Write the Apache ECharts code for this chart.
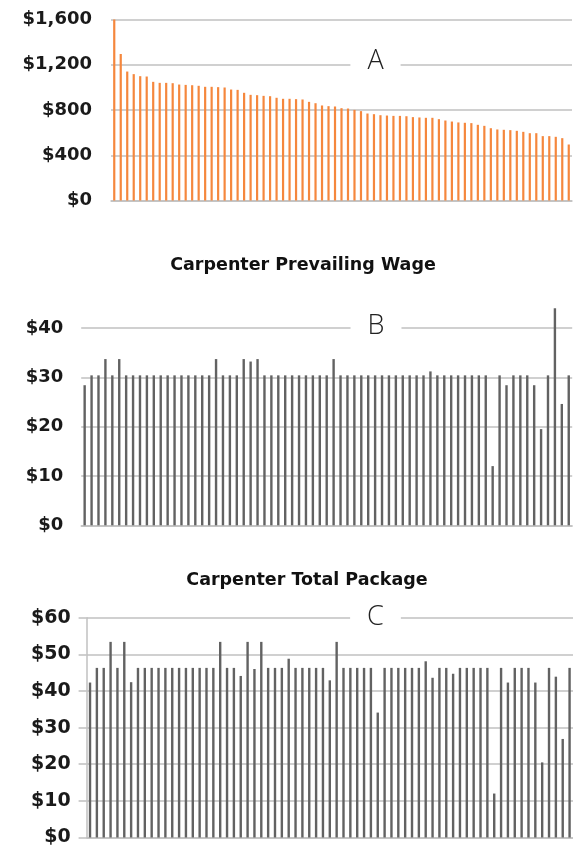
<!DOCTYPE html>
<html>
<head>
<meta charset="utf-8">
<style>
  html, body { margin: 0; padding: 0; background: #fff; }
  #chart { width: 573px; height: 847px; }
</style>
<script src="https://cdn.jsdelivr.net/npm/echarts@6/dist/echarts.min.js"></script>
</head>
<body>
<div id="chart"></div>
<script>
// 71 locations, same order in all three panels
const categories = Array.from({ length: 71 }, (_, i) => 'L' + (i + 1))

// A: weekly amount, sorted high to low
const valuesA = [
  1640, 1295, 1140, 1117, 1099, 1096, 1049, 1040, 1040, 1037,
  1025, 1022, 1019, 1014, 1005, 1005, 1002, 999, 981, 978,
  952, 934, 931, 925, 922, 908, 899, 899, 896, 893,
  872, 860, 840, 834, 831, 816, 813, 801, 790, 769,
  763, 754, 751, 748, 748, 745, 737, 734, 731, 731,
  719, 707, 698, 690, 687, 684, 669, 660, 639, 628,
  625, 622, 616, 607, 595, 595, 569, 569, 563, 551,
  495
]

// B: Carpenter Prevailing Wage
const valuesB = [
  28.4, 30.4, 30.4, 33.7, 30.4, 33.7, 30.4, 30.4, 30.4, 30.4,
  30.4, 30.4, 30.4, 30.4, 30.4, 30.4, 30.4, 30.4, 30.4, 33.7,
  30.4, 30.4, 30.4, 33.7, 33.2, 33.7, 30.4, 30.4, 30.4, 30.4,
  30.4, 30.4, 30.4, 30.4, 30.4, 30.4, 33.7, 30.4, 30.4, 30.4,
  30.4, 30.4, 30.4, 30.4, 30.4, 30.4, 30.4, 30.4, 30.4, 30.4,
  31.2, 30.4, 30.4, 30.4, 30.4, 30.4, 30.4, 30.4, 30.4, 12.0,
  30.4, 28.4, 30.4, 30.4, 30.4, 28.4, 19.5, 30.4, 44.0, 24.6,
  30.4
]

// C: Carpenter Total Package
const valuesC = [
  42.3, 46.3, 46.3, 53.4, 46.3, 53.4, 42.4, 46.3, 46.3, 46.3,
  46.3, 46.3, 46.3, 46.3, 46.3, 46.3, 46.3, 46.3, 46.3, 53.4,
  46.3, 46.3, 44.1, 53.4, 46.0, 53.4, 46.3, 46.3, 46.3, 48.8,
  46.3, 46.3, 46.3, 46.3, 46.3, 42.9, 53.4, 46.3, 46.3, 46.3,
  46.3, 46.3, 34.1, 46.3, 46.3, 46.3, 46.3, 46.3, 46.3, 48.1,
  43.6, 46.3, 46.3, 44.7, 46.3, 46.3, 46.3, 46.3, 46.3, 12.0,
  46.3, 42.3, 46.3, 46.3, 46.3, 42.3, 20.5, 46.3, 43.9, 26.9,
  46.3
]

const panelLetters = ['A', 'B', 'C']
const panelTitles = ['Carpenter Prevailing Wage', 'Carpenter Total Package']

const gridColor = '#c0c0c0'
const labelFont = 'DejaVu Sans'
const money = v => '$' + v.toLocaleString('en-US')

function xAxisFor(gridIndex) {
  return {
    type: 'category',
    gridIndex,
    data: categories,
    axisLine: { show: true, lineStyle: { color: gridColor, width: 1.5 } },
    axisTick: { show: false },
    axisLabel: { show: false }
  }
}

function yAxisFor(gridIndex, max, interval, fontSize, margin) {
  return {
    type: 'value',
    gridIndex,
    min: 0,
    max,
    interval,
    axisLine: { show: false },
    axisTick: { show: false },
    splitLine: { lineStyle: { color: gridColor, width: 1.5 } },
    axisLabel: {
      formatter: money,
      margin,
      color: '#1a1a1a',
      fontFamily: labelFont,
      fontWeight: 'bold',
      fontSize
    }
  }
}

function letterMark(text, x, y) {
  return {
    type: 'text',
    x, y,
    z: 100,
    style: {
      text,
      align: 'center',
      verticalAlign: 'middle',
      fill: '#222',
      font: '300 27px "Open Sans"',
      backgroundColor: '#fff',
      padding: [0, 17]
    }
  }
}

function titleMark(text, x, y) {
  return {
    type: 'text',
    x, y,
    z: 100,
    style: {
      text,
      align: 'center',
      verticalAlign: 'middle',
      fill: '#111',
      font: 'bold 17.5px "DejaVu Sans"'
    }
  }
}

const chart = echarts.init(document.getElementById('chart'), null, { renderer: 'canvas' })

const yC = yAxisFor(2, 60, 10, 19, 16)
yC.axisLine = { show: true, lineStyle: { color: gridColor, width: 1.5 } }
yC.axisTick = { show: true, inside: false, length: 8, lineStyle: { color: gridColor, width: 1.5 } }

chart.setOption({
  animation: false,
  backgroundColor: '#fff',
  grid: [
    { left: 111, top: 19.5, width: 461, height: 181 },
    { left: 81.2, top: 328, width: 491, height: 197.3 },
    { left: 86.6, top: 617.7, width: 489.6, height: 222 }
  ],
  xAxis: [xAxisFor(0), xAxisFor(1), xAxisFor(2)],
  yAxis: [
    yAxisFor(0, 1600, 400, 18, 19),
    yAxisFor(1, 40, 10, 18, 18),
    yC
  ],
  series: [
    {
      type: 'bar',
      xAxisIndex: 0,
      yAxisIndex: 0,
      data: valuesA,
      barWidth: 2.2,
      itemStyle: { color: '#f5873d' }
    },
    {
      type: 'bar',
      xAxisIndex: 1,
      yAxisIndex: 1,
      data: valuesB,
      barWidth: 2.4,
      clip: false,
      itemStyle: { color: '#626262' }
    },
    {
      type: 'bar',
      xAxisIndex: 2,
      yAxisIndex: 2,
      data: valuesC,
      barWidth: 2.4,
      itemStyle: { color: '#626262' }
    }
  ],
  graphic: [
    letterMark(panelLetters[0], 375.5, 61),
    letterMark(panelLetters[1], 376, 326.5),
    letterMark(panelLetters[2], 375.5, 617.5),
    titleMark(panelTitles[0], 303, 265),
    titleMark(panelTitles[1], 307, 580)
  ]
})

window.addEventListener('resize', () => chart.resize())
</script>
</body>
</html>
